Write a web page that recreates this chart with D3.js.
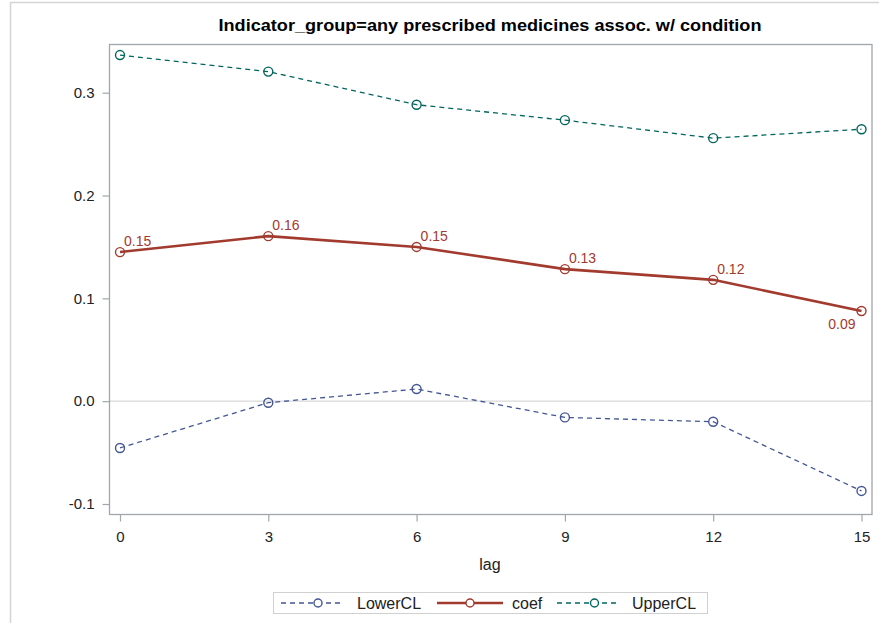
<!DOCTYPE html>
<html>
<head>
<meta charset="utf-8">
<script src="https://cdn.jsdelivr.net/npm/d3@7"></script>
<style>
  body { margin: 0; background: #fff; }
  text { font-family: "Liberation Sans", Arial, sans-serif; }
</style>
</head>
<body>
<script>
// chart values
var lags = [0, 3, 6, 9, 12, 15];
var lowerCL = [-0.0455, -0.0015, 0.0118, -0.0158, -0.0200, -0.0873];
var coef = [0.1450, 0.1605, 0.1500, 0.1284, 0.1180, 0.0877];
var upperCL = [0.3366, 0.3205, 0.2883, 0.2733, 0.2558, 0.2645];
var coefLabels = ["0.15", "0.16", "0.15", "0.13", "0.12", "0.09"];
var yTicks = [-0.1, 0.0, 0.1, 0.2, 0.3];
var title = "Indicator_group=any prescribed medicines assoc. w/ condition";

var W = 879, H = 623;
var frame = { left: 109.5, right: 872, top: 44.5, bottom: 514.5 };

var svg = d3.select("body").append("svg")
  .attr("width", W)
  .attr("height", H);

// outer page border
svg.append("path")
  .attr("d", "M10.5," + H + "V2.5H" + W)
  .attr("fill", "none")
  .attr("stroke", "#d4d4d4")
  .attr("stroke-width", 1.5);

var x = d3.scaleLinear().domain([0, 15]).range([120, 861.5]);
var y = d3.scaleLinear().domain([-0.1, 0.3]).range([504, 92.7]);

// title
svg.append("text")
  .attr("x", 490)
  .attr("y", 31)
  .attr("text-anchor", "middle")
  .attr("textLength", 543)
  .attr("lengthAdjust", "spacingAndGlyphs")
  .style("font-size", "17px")
  .style("font-weight", "bold")
  .attr("fill", "#000")
  .text(title);

// zero reference line
svg.append("line")
  .attr("x1", frame.left).attr("x2", frame.right)
  .attr("y1", y(0)).attr("y2", y(0))
  .attr("stroke", "#d9d9d9")
  .attr("stroke-width", 1.3);

// frame
svg.append("rect")
  .attr("x", frame.left).attr("y", frame.top)
  .attr("width", frame.right - frame.left)
  .attr("height", frame.bottom - frame.top)
  .attr("fill", "none")
  .attr("stroke", "#a0a6ab")
  .attr("stroke-width", 1.3);

// y axis
var yAxis = d3.axisLeft(y)
  .tickValues(yTicks)
  .tickSize(7)
  .tickPadding(8)
  .tickFormat(function(d) { return d3.format(".1f")(d).replace("\u2212", "-"); });
var gy = svg.append("g")
  .attr("transform", "translate(" + frame.left + ",0)")
  .call(yAxis);
gy.select(".domain").remove();
gy.selectAll(".tick line").attr("stroke", "#a0a6ab").attr("stroke-width", 1.2);
gy.selectAll(".tick text")
  .style("font-size", "15px").attr("fill", "#222");

// x axis
var xAxis = d3.axisBottom(x)
  .tickValues(lags)
  .tickSize(7)
  .tickPadding(10);
var gx = svg.append("g")
  .attr("transform", "translate(0," + frame.bottom + ")")
  .call(xAxis);
gx.select(".domain").remove();
gx.selectAll(".tick line").attr("stroke", "#a0a6ab").attr("stroke-width", 1.2);
gx.selectAll(".tick text")
  .style("font-size", "15px").attr("fill", "#222");
gy.attr("font-family", null);
gx.attr("font-family", null);

svg.append("text")
  .attr("x", 490)
  .attr("y", 570)
  .attr("text-anchor", "middle")
  .style("font-size", "16px")
  .attr("fill", "#222")
  .text("lag");

// series
var series = [
  { name: "LowerCL", values: lowerCL, color: "#445694", dash: "5,4", width: 1.3 },
  { name: "coef", values: coef, color: "#a23a2e", dash: null, width: 2.6 },
  { name: "UpperCL", values: upperCL, color: "#01665e", dash: "5,4", width: 1.3 }
];

var line = d3.line()
  .x(function(d, i) { return x(lags[i]); })
  .y(function(d) { return y(d); });

series.forEach(function(s) {
  svg.append("path")
    .datum(s.values)
    .attr("d", line)
    .attr("fill", "none")
    .attr("stroke", s.color)
    .attr("stroke-width", s.width)
    .attr("stroke-dasharray", s.dash);

  svg.selectAll(null)
    .data(s.values)
    .enter()
    .append("circle")
    .attr("cx", function(d, i) { return x(lags[i]); })
    .attr("cy", function(d) { return y(d); })
    .attr("r", 4.5)
    .attr("fill", "none")
    .attr("stroke", s.color)
    .attr("stroke-width", 1.4);
});

// coef data labels
svg.selectAll(null)
  .data(coef)
  .enter()
  .append("text")
  .attr("x", function(d, i) { return i === coef.length - 1 ? x(lags[i]) - 6 : x(lags[i]) + 4; })
  .attr("y", function(d, i) { return i === coef.length - 1 ? y(d) + 18 : y(d) - 6; })
  .attr("text-anchor", function(d, i) { return i === coef.length - 1 ? "end" : "start"; })
  .style("font-size", "14px")
  .attr("fill", "#a23a2e")
  .text(function(d, i) { return coefLabels[i]; });

// legend
var legend = svg.append("g");
legend.append("rect")
  .attr("x", 273.5).attr("y", 592.5)
  .attr("width", 434).attr("height", 21)
  .attr("fill", "#fff")
  .attr("stroke", "#d0d0d0")
  .attr("stroke-width", 1);

var legendPos = [
  { x0: 281, x1: 343, tx: 357 },
  { x0: 437, x1: 503, tx: 512 },
  { x0: 557, x1: 620, tx: 632 }
];

series.forEach(function(s, i) {
  var p = legendPos[i];
  var cy = 603;
  var cx = (p.x0 + p.x1) / 2 + (s.dash ? 6 : 0);
  legend.append("line")
    .attr("x1", p.x0).attr("x2", p.x1)
    .attr("y1", cy).attr("y2", cy)
    .attr("stroke", s.color)
    .attr("stroke-width", s.width)
    .attr("stroke-dasharray", s.dash);
  legend.append("circle")
    .attr("cx", cx).attr("cy", cy)
    .attr("r", 4)
    .attr("fill", "#fff")
    .attr("stroke", s.color)
    .attr("stroke-width", 1.4);
  legend.append("text")
    .attr("x", p.tx).attr("y", cy + 6)
    .style("font-size", "16px")
    .attr("fill", "#222")
    .text(s.name);
});
</script>
</body>
</html>
